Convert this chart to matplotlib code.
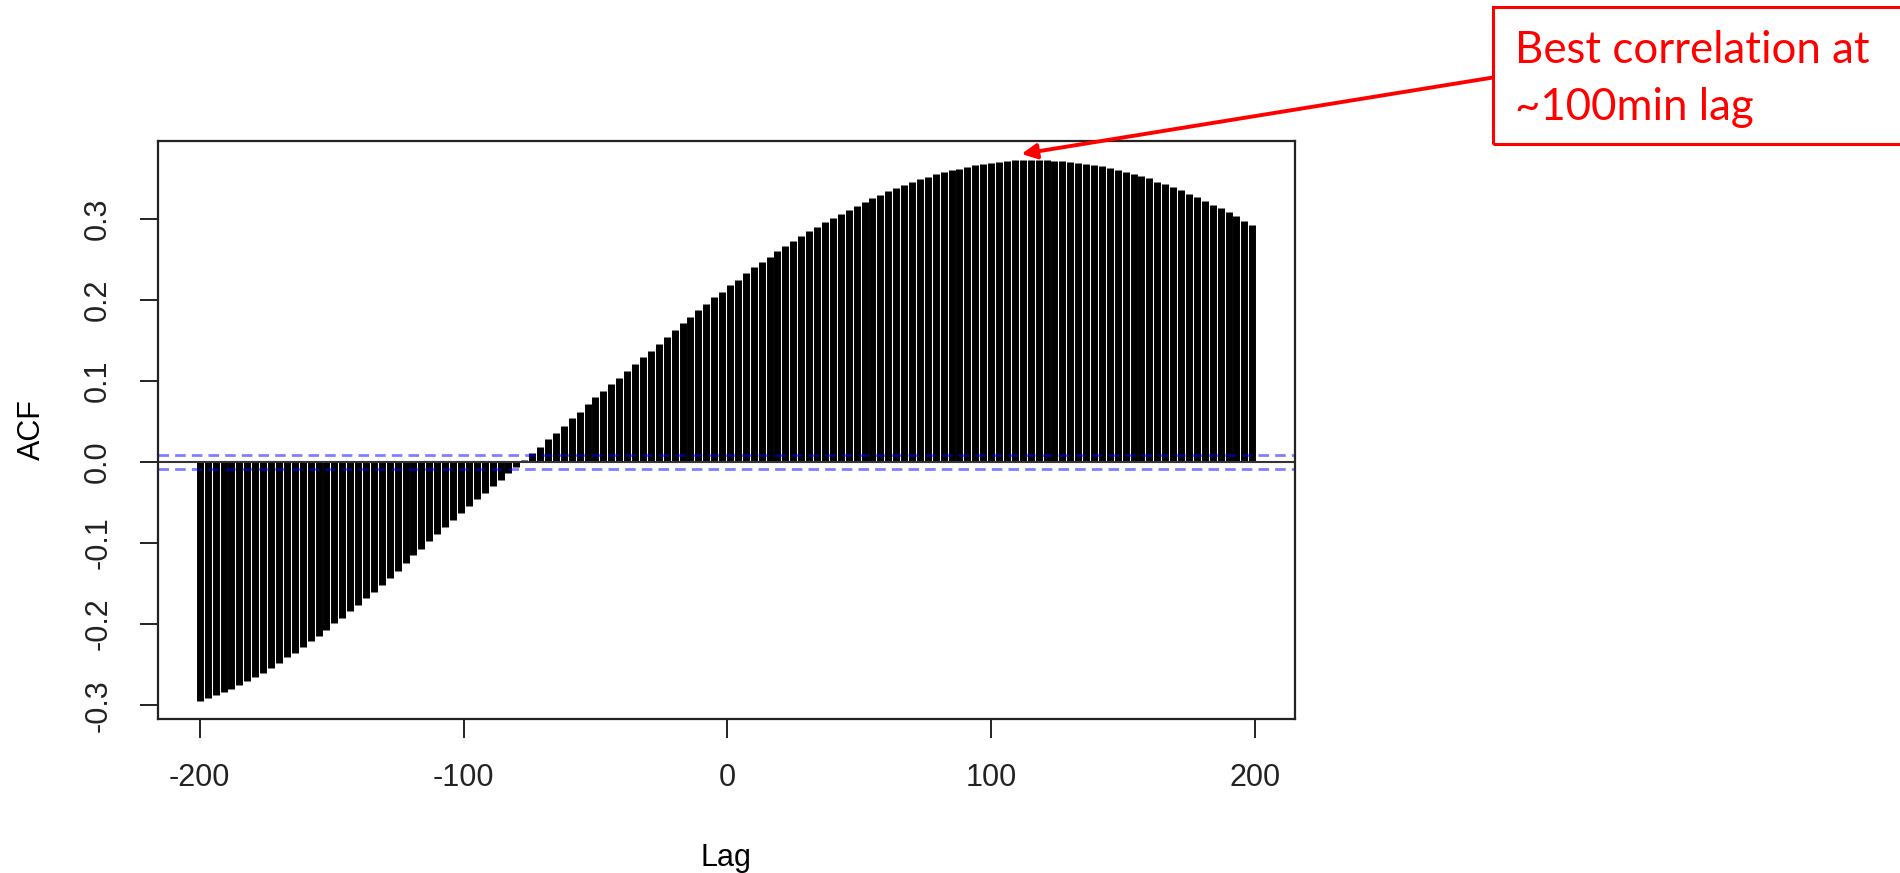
import numpy as np
import matplotlib
matplotlib.use("Agg")
import matplotlib.pyplot as plt
from matplotlib.patches import Rectangle

# cross-correlation (one bar every 3 lags)
lags = np.arange(-200, 200, 3)
acf = [
    -0.295, -0.291, -0.288, -0.284, -0.280, -0.275, -0.270, -0.265, -0.260, -0.254,
    -0.248, -0.241, -0.235, -0.228, -0.221, -0.214, -0.207, -0.199, -0.192, -0.184,
    -0.176, -0.168, -0.160, -0.152, -0.143, -0.134, -0.124, -0.115, -0.107, -0.098,
    -0.089, -0.080, -0.072, -0.063, -0.054, -0.046, -0.038, -0.029, -0.022, -0.014,
    -0.006, 0.002, 0.011, 0.019, 0.028, 0.036, 0.045, 0.054, 0.062, 0.071,
    0.080, 0.088, 0.096, 0.104, 0.112, 0.121, 0.129, 0.137, 0.146, 0.154,
    0.163, 0.171, 0.179, 0.187, 0.195, 0.203, 0.210, 0.218, 0.225, 0.233,
    0.240, 0.247, 0.253, 0.260, 0.266, 0.273, 0.279, 0.285, 0.290, 0.296,
    0.301, 0.306, 0.311, 0.316, 0.321, 0.326, 0.330, 0.334, 0.338, 0.342,
    0.346, 0.349, 0.352, 0.355, 0.358, 0.360, 0.362, 0.364, 0.366, 0.368,
    0.369, 0.370, 0.371, 0.372, 0.372, 0.372, 0.372, 0.372, 0.371, 0.371,
    0.370, 0.369, 0.368, 0.366, 0.365, 0.363, 0.360, 0.358, 0.355, 0.353,
    0.350, 0.346, 0.343, 0.339, 0.335, 0.331, 0.327, 0.322, 0.317, 0.313,
    0.308, 0.303, 0.297, 0.292,
]
ci = 0.0084
xticks = [-200, -100, 0, 100, 200]
yticks = [-0.3, -0.2, -0.1, 0.0, 0.1, 0.2, 0.3]
peak = (111.5, 0.380)
note_lines = ["Best correlation at", "~100min lag"]

plt.rcParams['font.family'] = ['Liberation Sans', 'DejaVu Sans']

W, H = 1900, 873
fig = plt.figure(figsize=(W / 100, H / 100), dpi=100)
ax = fig.add_axes([157.6 / W, 1 - 718.6 / H, (1295 - 157.6) / W, (718.6 - 140.6) / H])

ax.vlines(lags, 0, acf, color='black', linewidth=5.0)
ax.axhline(0, color='#333333', linewidth=1.5)
for c in (ci, -ci):
    ax.axhline(c, color=(0, 0, 1), alpha=0.5, linewidth=2.0, linestyle=(0, (3.8, 2.2)))

ax.set_xlim(-216, 215.2)
ax.set_ylim(-0.3165, 0.3965)
ax.set_xticks(xticks)
ax.set_xticklabels([str(t) for t in xticks])
ax.set_yticks(yticks)
ax.set_yticklabels([f"{t:.1f}" for t in yticks], rotation=90, va='center')
ax.tick_params(axis='x', length=13.7, width=1.4, pad=18, labelsize=22, colors='#222222')
ax.tick_params(axis='y', length=13, width=1.4, pad=19, labelsize=22, colors='#222222')
for s in ax.spines.values():
    s.set_linewidth(1.6)
    s.set_color('#222222')
ax.set_xlabel("Lag", fontsize=22, labelpad=36)
ax.set_ylabel("ACF", fontsize=22, labelpad=26)

# red callout
red = (1, 0, 0)
box = Rectangle((1493 / W, 1 - 144 / H), 0.3, (144 - 7.3) / H, transform=fig.transFigure,
                fill=False, edgecolor=red, linewidth=2.2, clip_on=False)
fig.add_artist(box)
for line, base in zip(note_lines, (63.3, 120.5)):
    fig.text(1515 / W, 1 - base / H, line, color=red, fontsize=31.5,
             family=['Lato', 'DejaVu Sans'], va='baseline', ha='left')
ax.annotate("", xy=peak, xycoords='data', xytext=(1493 / W, 1 - 77.5 / H),
            textcoords='figure fraction',
            arrowprops=dict(arrowstyle='-|>,head_length=0.9,head_width=0.45', color=red,
                            linewidth=2.8, shrinkA=0, shrinkB=0),
            annotation_clip=False)

fig.savefig("out.png", dpi=100)
